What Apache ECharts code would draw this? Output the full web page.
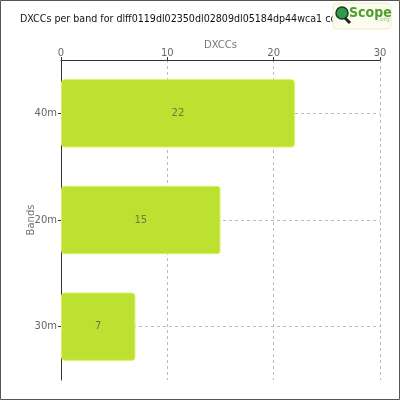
<!DOCTYPE html>
<html><head><meta charset="utf-8">
<script src="https://cdn.jsdelivr.net/npm/echarts@6/dist/echarts.min.js"></script>
<style>html,body{margin:0;padding:0;background:#fff}#c{width:400px;height:400px}</style>
</head><body><div id="c"></div>
<script>
const bands = ['40m', '20m', '30m'];
const dxccs = [22, 15, 7];
const xTicks = [0, 10, 20, 30];
const titleText = 'DXCCs per band for dlff0119dl02350dl02809dl05184dp44wca1 co';

const chart = echarts.init(document.getElementById('c'), null, {renderer: 'canvas'});
const font = '"DejaVu Sans", sans-serif';
chart.setOption({
  animation: false,
  backgroundColor: '#fff',
  title: {
    text: titleText, left: 15, top: 9,
    textStyle: {fontFamily: '"DejaVu Sans Condensed", sans-serif', fontSize: 10.6, fontWeight: 'normal', color: '#111'}
  },
  grid: {left: 61, right: 20, top: 60, bottom: 20, containLabel: false},
  xAxis: {
    type: 'value', position: 'top', min: xTicks[0], max: xTicks[xTicks.length - 1], interval: 10,
    name: 'DXCCs', nameLocation: 'middle', nameGap: 10, nameMoveOverlap: false,
    nameTextStyle: {fontFamily: font, fontSize: 10, color: '#777'},
    axisLine: {show: true, lineStyle: {color: '#333', width: 1}},
    axisTick: {show: true, length: 3, lineStyle: {color: '#333'}},
    axisLabel: {fontFamily: font, fontSize: 10, color: '#666', margin: 2},
    splitLine: {show: true, lineStyle: {color: '#bbb', type: [3, 3]}}
  },
  yAxis: {
    type: 'category', data: bands, inverse: true,
    name: 'Bands', nameLocation: 'middle', nameGap: 25, nameMoveOverlap: false,
    nameTextStyle: {fontFamily: font, fontSize: 10, color: '#777'},
    axisLine: {show: true, lineStyle: {color: '#333', width: 1}},
    axisTick: {show: true, alignWithLabel: true, length: 3, lineStyle: {color: '#333'}},
    axisLabel: {fontFamily: font, fontSize: 10, color: '#666', margin: 4},
    splitLine: {show: true, alignWithLabel: true, lineStyle: {color: '#bbb', type: [3, 3]}}
  },
  series: [{
    type: 'bar', data: dxccs, barWidth: '64%',
    itemStyle: {color: '#bde130', borderColor: '#d6f060', borderWidth: 1, borderRadius: 3},
    label: {show: true, position: 'inside', fontFamily: font, fontSize: 10, color: '#6a7a40'}
  }],
  graphic: [
    {type: 'rect', silent: true, z: 100,
     shape: {x: 0.5, y: 0.5, width: 399, height: 399},
     style: {fill: 'none', stroke: '#555', lineWidth: 1}},
    {type: 'rect', z: 101, shape: {x: 333, y: 3, width: 58, height: 26, r: 4},
     style: {fill: '#fbfbef', stroke: '#ececcc', lineWidth: 1}},
    {type: 'line', z: 102, shape: {x1: 343, y1: 16, x2: 350, y2: 23},
     style: {stroke: '#222', lineWidth: 3}},
    {type: 'circle', z: 103, shape: {cx: 342, cy: 13, r: 6},
     style: {fill: '#2f9a4a', stroke: '#1c3a22', lineWidth: 1.5}},
    {type: 'text', z: 103, style: {x: 349, y: 6, text: 'Scope', fill: '#4aa02a',
      font: 'bold 14px "DejaVu Sans Condensed", sans-serif'}},
    {type: 'text', z: 103, style: {x: 378, y: 16, text: '.org', fill: '#9bc86a',
      font: '6px "DejaVu Sans", sans-serif'}}
  ]
});
</script></body></html>
